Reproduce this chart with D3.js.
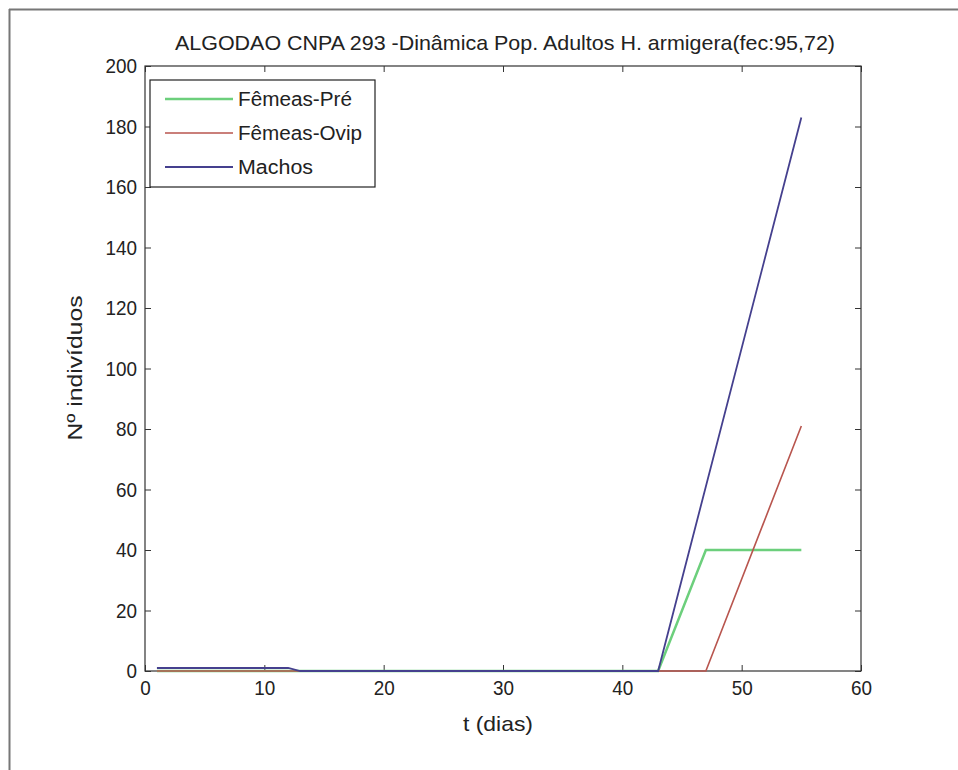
<!DOCTYPE html>
<html><head><meta charset="utf-8">
<script src="https://cdn.jsdelivr.net/npm/d3@7"></script>
<style>body{margin:0;background:#fff}text{font-family:"Liberation Sans",Arial,sans-serif;fill:#222}</style>
</head><body><svg id="c" width="958" height="770"></svg>
<script>
const title = "ALGODAO CNPA 293 -Dinâmica Pop. Adultos H. armigera(fec:95,72)";
const xLabel = "t (dias)";
const yLabel = "Nº indivíduos";
const xTicks = [0,10,20,30,40,50,60];
const yTicks = [0,20,40,60,80,100,120,140,160,180,200];
const seriesNames = ["Fêmeas-Pré","Fêmeas-Ovip","Machos"];
const seriesColors = ["#6ccf7c","#b8554e","#45408e"];
const tPre = [1,43,47,55];
const vPre = [0,0,40,40];
const tOvip = [1,47,55];
const vOvip = [0,0,81];
const tMachos = [1,12,13,43,55];
const vMachos = [1,1,0,0,183];

const svg = d3.select("#c");
const L=145,R=861,T=66,B=671;
const x = d3.scaleLinear().domain([0,60]).range([L,R]);
const y = d3.scaleLinear().domain([0,200]).range([B,T]);

// outer frame
svg.append("line").attr("x1",9).attr("x2",958).attr("y1",9.5).attr("y2",9.5).attr("stroke","#777").attr("stroke-width",2);
svg.append("line").attr("x1",9.5).attr("x2",9.5).attr("y1",9).attr("y2",770).attr("stroke","#777").attr("stroke-width",2);

// axes box
svg.append("rect").attr("x",L).attr("y",T).attr("width",R-L).attr("height",B-T).attr("fill","none").attr("stroke","#333").attr("stroke-width",1.2);

const fmt = d3.format("d");
const gx = svg.append("g").attr("transform",`translate(0,${B})`)
  .call(d3.axisBottom(x).tickValues(xTicks).tickSize(-6).tickPadding(12).tickFormat(fmt));
const gxt = svg.append("g").attr("transform",`translate(0,${T})`)
  .call(d3.axisTop(x).tickValues(xTicks).tickSize(-6).tickFormat(""));
const gy = svg.append("g").attr("transform",`translate(${L},0)`)
  .call(d3.axisLeft(y).tickValues(yTicks).tickSize(-6).tickPadding(8).tickFormat(fmt));
const gyr = svg.append("g").attr("transform",`translate(${R},0)`)
  .call(d3.axisRight(y).tickValues(yTicks).tickSize(-6).tickFormat(""));
[gx,gxt,gy,gyr].forEach(g=>{g.select(".domain").remove();g.selectAll("line").attr("stroke","#333");
  g.selectAll("text").attr("font-size",21).attr("font-family","Liberation Sans, Arial").attr("fill","#222")
   .attr("textLength",d=>String(d).length*10.5).attr("lengthAdjust","spacingAndGlyphs");});
gx.selectAll("text").attr("dy","0.55em");

svg.append("text").attr("x",(L+R)/2+2).attr("y",50).attr("text-anchor","middle").attr("font-size",21)
  .attr("textLength",660).attr("lengthAdjust","spacingAndGlyphs").text(title);
svg.append("text").attr("x",(L+R)/2-5).attr("y",731).attr("text-anchor","middle").attr("font-size",21)
  .attr("textLength",70).attr("lengthAdjust","spacingAndGlyphs").text(xLabel);
svg.append("text").attr("transform","translate(82,368) rotate(-90)").attr("text-anchor","middle").attr("font-size",21)
  .attr("textLength",145).attr("lengthAdjust","spacingAndGlyphs").text(yLabel);

const line = d3.line().x(d=>x(d[0])).y(d=>y(d[1]));
const data = [d3.zip(tPre,vPre), d3.zip(tOvip,vOvip), d3.zip(tMachos,vMachos)];
const widths=[2.5,1.6,1.8];
data.forEach((d,i)=>{
  svg.append("path").datum(d).attr("d",line).attr("fill","none").attr("stroke",seriesColors[i]).attr("stroke-width",widths[i]);
});

// legend
const lg = svg.append("g");
lg.append("rect").attr("x",150).attr("y",80).attr("width",225).attr("height",107).attr("fill","#fff").attr("stroke","#222").attr("stroke-width",1.2);
const legLens = [114,124,75];
seriesNames.forEach((n,i)=>{
  const yy = 99+i*34;
  lg.append("line").attr("x1",165).attr("x2",233).attr("y1",yy).attr("y2",yy).attr("stroke",seriesColors[i]).attr("stroke-width",widths[i]);
  lg.append("text").attr("x",238).attr("y",yy+7).attr("font-size",20)
    .attr("textLength",legLens[i]).attr("lengthAdjust","spacingAndGlyphs").text(n);
});
</script></body></html>
